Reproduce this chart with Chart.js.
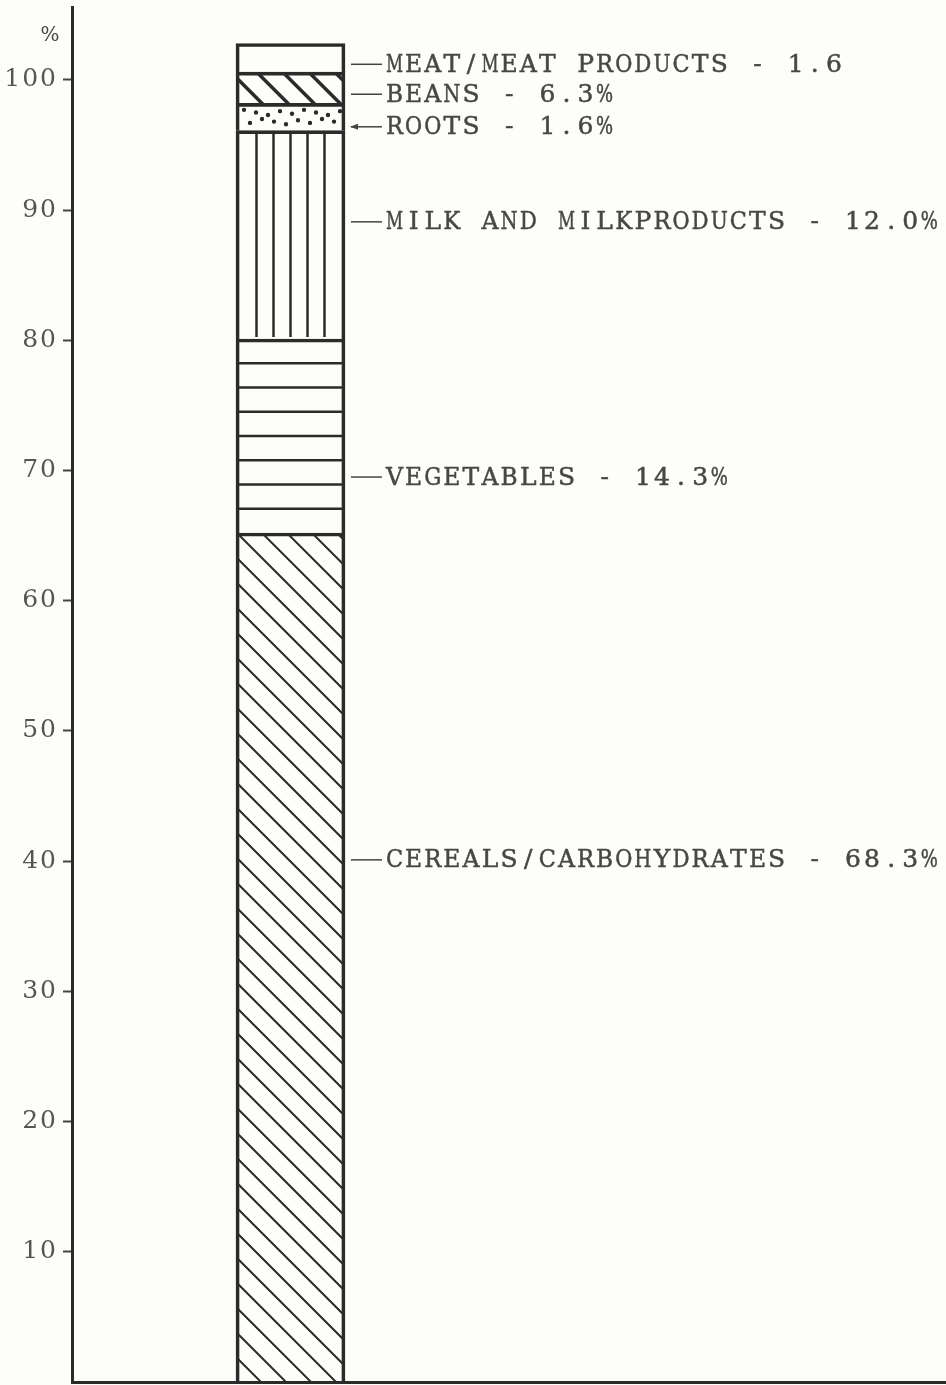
<!DOCTYPE html>
<html>
<head>
<meta charset="utf-8">
<script src="https://cdn.jsdelivr.net/npm/chart.js@4"></script>
<style>
  html, body { margin: 0; padding: 0; background: #fdfdf9; }
  #wrap { width: 946px; height: 1385px; position: relative; }
</style>
</head>
<body>
<div id="wrap"><canvas id="chart"></canvas></div>
<script>
// --- Data (bottom segment first) ---
const segmentNames = ['Cereals/Carbohydrates', 'Vegetables', 'Milk and milk products', 'Roots', 'Beans', 'Meat/meat products'];
const segmentHeights = [65.2, 14.9, 16.0, 2.1, 2.4, 2.2];
const calloutTexts = [
    'CEREALS/CARBOHYDRATES - 68.3%',
    'VEGETABLES - 14.3%',
    'MILK AND MILKPRODUCTS - 12.0%',
    'ROOTS - 1.6%',
    'BEANS - 6.3%',
    'MEAT/MEAT PRODUCTS - 1.6'
];
const unitLabel = '%';

// --- Layout / style ---
const calloutAt = [40.1, 69.5, 89.1, 96.4, 98.9, 101.2];   // axis value where each leader line sits
const fills = [
    { kind: 'diag', gap: 25, lw: 2 },
    { kind: 'hlines', count: 8, lw: 2.5 },
    { kind: 'vlines', count: 5, gap: 17, lw: 2.5 },
    { kind: 'dots' },
    { kind: 'diag', gap: 26, lw: 3.5 },
    { kind: 'none' }
];
const ink = '#2b2b2b';
const typeInk = '#474747';
const typeFont = '25px "DejaVu Serif"';
const pitch = 19.1;

// typewriter-ish: one character per fixed cell
function drawTyped(ctx, text, x0, y) {
    ctx.font = typeFont;
    ctx.textAlign = 'center';
    ctx.textBaseline = 'middle';
    ctx.fillStyle = typeInk;
    ctx.strokeStyle = typeInk;
    ctx.lineWidth = 0.5;
    [...text].forEach((ch, j) => {
        if (ch === ' ') return;
        const w = ctx.measureText(ch).width;
        const s = Math.min(1, (pitch - 2) / w);
        ctx.save();
        ctx.translate(x0 + j * pitch + pitch / 2, y + 1);
        ctx.scale(s, 1);
        ctx.fillText(ch, 0, 0);
        ctx.strokeText(ch, 0, 0);
        ctx.restore();
    });
}

const hatchPlugin = {
    id: 'hatch',
    beforeDraw(chart) {
        chart.ctx.letterSpacing = '2px';
    },
    beforeDatasetsDraw(chart) {
        const ctx = chart.ctx;
        chart.data.datasets.forEach((ds, i) => {
            const el = chart.getDatasetMeta(i).data[0];
            if (!el) return;
            const { x, y, base, width } = el.getProps(['x', 'y', 'base', 'width'], true);
            const left = x - width / 2, right = x + width / 2;
            const top = Math.min(y, base), bottom = Math.max(y, base);
            const f = fills[i];
            ctx.save();
            ctx.beginPath();
            ctx.rect(left, top, width, bottom - top);
            ctx.clip();
            ctx.strokeStyle = ink;
            ctx.fillStyle = ink;
            ctx.lineWidth = f.lw || 2;
            ctx.beginPath();
            if (f.kind === 'diag') {
                for (let c = bottom - left; c > top - right - f.gap; c -= f.gap) {
                    ctx.moveTo(left, left + c);
                    ctx.lineTo(right, right + c);
                }
                ctx.stroke();
            } else if (f.kind === 'hlines') {
                for (let k = 1; k < f.count; k++) {
                    const yy = bottom - k * (bottom - top) / f.count;
                    ctx.moveTo(left, yy);
                    ctx.lineTo(right, yy);
                }
                ctx.stroke();
            } else if (f.kind === 'vlines') {
                for (let k = 0; k < f.count; k++) {
                    const xx = x + (k - (f.count - 1) / 2) * f.gap;
                    ctx.moveTo(xx, top);
                    ctx.lineTo(xx, bottom - 2);
                }
                ctx.stroke();
            } else if (f.kind === 'dots') {
                const h = bottom - top;
                for (let r = 0; r < 2; r++) {
                    let k = 0;
                    for (let xx = left + 8 + r * 6; xx < right - 4; xx += 12, k++) {
                        const yy = top + h * (r + 1) / 3 + (((k * 7 + r * 3) % 5) - 2) * 1.3;
                        ctx.moveTo(xx + 2.2, yy);
                        ctx.arc(xx, yy, 2.2, 0, Math.PI * 2);
                    }
                }
                ctx.fill();
            }
            ctx.restore();
        });
    },
    afterDatasetsDraw(chart) {
        const ctx = chart.ctx;
        ctx.save();
        ctx.letterSpacing = '0px';
        const yScale = chart.scales.y;
        const bar = chart.getDatasetMeta(0).data[0];
        const barRight = bar.x + bar.width / 2;
        calloutTexts.forEach((t, i) => {
            const py = yScale.getPixelForValue(calloutAt[i]);
            ctx.strokeStyle = '#444';
            ctx.lineWidth = 1.5;
            ctx.beginPath();
            ctx.moveTo(barRight + 6, py);
            ctx.lineTo(barRight + 37, py);
            ctx.stroke();
            if (segmentNames[i] === 'Roots') {
                ctx.fillStyle = '#444';
                ctx.beginPath();
                ctx.moveTo(barRight + 5, py);
                ctx.lineTo(barRight + 13, py - 3);
                ctx.lineTo(barRight + 13, py + 3);
                ctx.fill();
            }
            drawTyped(ctx, t, barRight + 40, py);
        });
        // unit mark above the axis
        ctx.font = '20px "DejaVu Serif"';
        ctx.fillStyle = typeInk;
        ctx.textAlign = 'center';
        ctx.textBaseline = 'middle';
        ctx.fillText(unitLabel, 50, 36);
        ctx.restore();
    }
};

new Chart(document.getElementById('chart'), {
    type: 'bar',
    data: {
        labels: ['', ''],
        datasets: segmentHeights.map((v, i) => ({
            label: segmentNames[i],
            data: [v, null],
            backgroundColor: 'rgba(0,0,0,0)',
            borderColor: ink,
            borderWidth: 3,
            barThickness: 109
        }))
    },
    options: {
        responsive: true,
        maintainAspectRatio: false,
        animation: false,
        layout: { padding: { top: 7, right: 0, bottom: 3, left: 0 } },
        plugins: { legend: { display: false }, tooltip: { enabled: false } },
        scales: {
            x: {
                stacked: true,
                ticks: { display: false },
                grid: { display: false },
                border: { display: true, color: ink, width: 3 },
                afterFit(scale) {
                    scale.height = 0;
                    scale.paddingLeft = scale.paddingRight = 0;
                }
            },
            y: {
                stacked: true,
                min: 0,
                max: 105.6,
                ticks: {
                    stepSize: 10,
                    padding: 5,
                    color: '#555',
                    font: { family: 'DejaVu Serif', size: 25 },
                    callback: v => String(v)
                },
                grid: { drawOnChartArea: false, drawTicks: true, tickLength: 9, tickWidth: 2, tickColor: '#444' },
                border: { display: true, color: ink, width: 3 },
                afterBuildTicks(scale) {
                    scale.ticks = scale.ticks.filter(t => t.value > 0 && t.value % 10 === 0);
                },
                afterFit(scale) {
                    scale.width = 72;
                    scale.paddingTop = scale.paddingBottom = 0;
                }
            }
        }
    },
    plugins: [hatchPlugin]
});
</script>
</body>
</html>
